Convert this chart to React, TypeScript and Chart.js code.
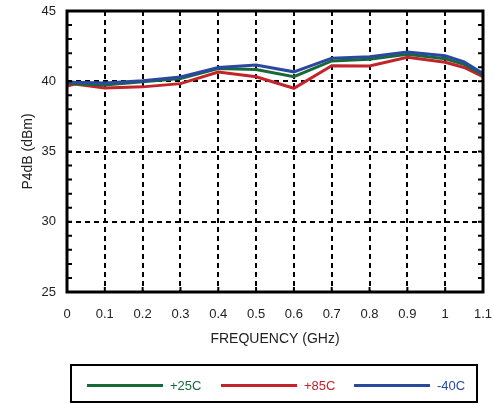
import React, { useEffect, useRef } from "react";
import { Chart, registerables } from "chart.js";
Chart.register(...registerables);

const freqGHz = [0, 0.02, 0.1, 0.2, 0.3, 0.4, 0.5, 0.6, 0.7, 0.8, 0.9, 1.0, 1.05, 1.1];
const p4dB_25C = [39.87, 39.83, 39.73, 39.96, 40.2, 40.9, 40.84, 40.32, 41.45, 41.57, 41.92, 41.6, 41.2, 40.46];
const p4dB_85C = [39.66, 39.8, 39.52, 39.6, 39.83, 40.65, 40.32, 39.5, 41.1, 41.08, 41.7, 41.35, 40.98, 40.32];
const p4dB_m40C = [39.96, 39.93, 39.87, 40.04, 40.3, 40.98, 41.15, 40.67, 41.64, 41.74, 42.09, 41.81, 41.38, 40.55];
const xTicks = [0, 0.1, 0.2, 0.3, 0.4, 0.5, 0.6, 0.7, 0.8, 0.9, 1, 1.1];
const yTicks = [25, 30, 35, 40, 45];
const seriesNames = ["+25C", "+85C", "-40C"];
const seriesColors = ["#17693a", "#c3232b", "#2b48a0"];

const FONT = "'Liberation Sans', Arial, Helvetica, sans-serif";

const framePlugin = {
  id: "frame",
  afterDatasetsDraw(chart: any) {
    const { ctx, chartArea, scales } = chart;
    const { left, right, top, bottom } = chartArea;
    ctx.save();
    ctx.strokeStyle = "#000";
    ctx.lineWidth = 2;
    ctx.setLineDash([]);
    const y = scales.y;
    for (let v = 26; v < 45; v++) {
      const py = y.getPixelForValue(v);
      ctx.beginPath();
      ctx.moveTo(left, py);
      ctx.lineTo(left + 5, py);
      ctx.moveTo(right, py);
      ctx.lineTo(right - 5, py);
      ctx.stroke();
    }
    const x = scales.x;
    for (const t of xTicks) {
      const px = x.getPixelForValue(t);
      ctx.beginPath();
      ctx.moveTo(px, bottom);
      ctx.lineTo(px, bottom - 5);
      ctx.stroke();
    }
    ctx.lineWidth = 3;
    ctx.strokeRect(left, top, right - left, bottom - top);
    ctx.restore();
  },
};

export default function App() {
  const ref = useRef<HTMLCanvasElement>(null);
  useEffect(() => {
    if (!ref.current) return;
    const data = [p4dB_25C, p4dB_85C, p4dB_m40C];
    const chart = new Chart(ref.current, {
      type: "line",
      data: {
        datasets: data.map((d, i) => ({
          label: seriesNames[i],
          data: freqGHz.map((f, j) => ({ x: f, y: d[j] })),
          borderColor: seriesColors[i],
          backgroundColor: seriesColors[i],
          borderWidth: 3,
          pointRadius: 0,
          tension: 0,
          order: [2, 3, 1][i],
        })),
      },
      options: {
        animation: false,
        responsive: false,
        maintainAspectRatio: false,
        layout: { padding: { top: 11, right: 11, bottom: 52, left: 0 } },
        plugins: { legend: { display: false }, tooltip: { enabled: false } },
        scales: {
          x: {
            type: "linear",
            min: 0,
            max: 1.1,
            afterBuildTicks: (s: any) => {
              s.ticks = xTicks.map((v) => ({ value: v }));
            },
            afterFit: (s: any) => {
              s.height = 60;
              s.paddingLeft = 0;
              s.paddingRight = 0;
            },
            ticks: {
              padding: 15,
              color: "#222",
              font: { family: FONT, size: 13 },
              maxRotation: 0,
              autoSkip: false,
              callback: (v: any) => String(Number(Number(v).toFixed(2))),
            },
            grid: { color: "#000", lineWidth: 2, drawTicks: false },
            border: { display: false, dash: [5, 4] },
            title: {
              display: true,
              text: "FREQUENCY (GHz)",
              color: "#222",
              font: { family: FONT, size: 14 },
              padding: { top: 0, bottom: 4 },
            },
          },
          y: {
            type: "linear",
            min: 25,
            max: 45,
            afterBuildTicks: (s: any) => {
              s.ticks = yTicks.map((v) => ({ value: v }));
            },
            afterFit: (s: any) => {
              s.width = 67;
              s.paddingTop = 0;
              s.paddingBottom = 0;
            },
            ticks: {
              padding: 11,
              color: "#222",
              font: { family: FONT, size: 13 },
            },
            grid: { color: "#000", lineWidth: 2, drawTicks: false },
            border: { display: false, dash: [5, 4] },
            title: {
              display: true,
              text: "P4dB (dBm)",
              color: "#222",
              font: { family: FONT, size: 14 },
              padding: { top: 20, bottom: 0 },
            },
          },
        },
      },
      plugins: [framePlugin],
    } as any);
    return () => chart.destroy();
  }, []);

  const legendX = [87, 221, 354];
  return (
    <div style={{ position: "fixed", left: 0, top: 0, width: 494, height: 404, background: "#fff" }}>
      <canvas ref={ref} width={494} height={404} style={{ display: "block" }} />
      <div
        style={{
          position: "absolute",
          left: 70,
          top: 364,
          width: 408,
          height: 39,
          border: "2px solid #000",
          boxSizing: "border-box",
        }}
      />
      {seriesNames.map((n, i) => (
        <React.Fragment key={n}>
          <div
            style={{
              position: "absolute",
              left: legendX[i],
              top: 384,
              width: 76,
              height: 3,
              background: seriesColors[i],
            }}
          />
          <div
            style={{
              position: "absolute",
              left: legendX[i] + 83,
              top: 378,
              fontFamily: FONT,
              fontSize: 13,
              lineHeight: "15px",
              color: seriesColors[i],
            }}
          >
            {n}
          </div>
        </React.Fragment>
      ))}
    </div>
  );
}
